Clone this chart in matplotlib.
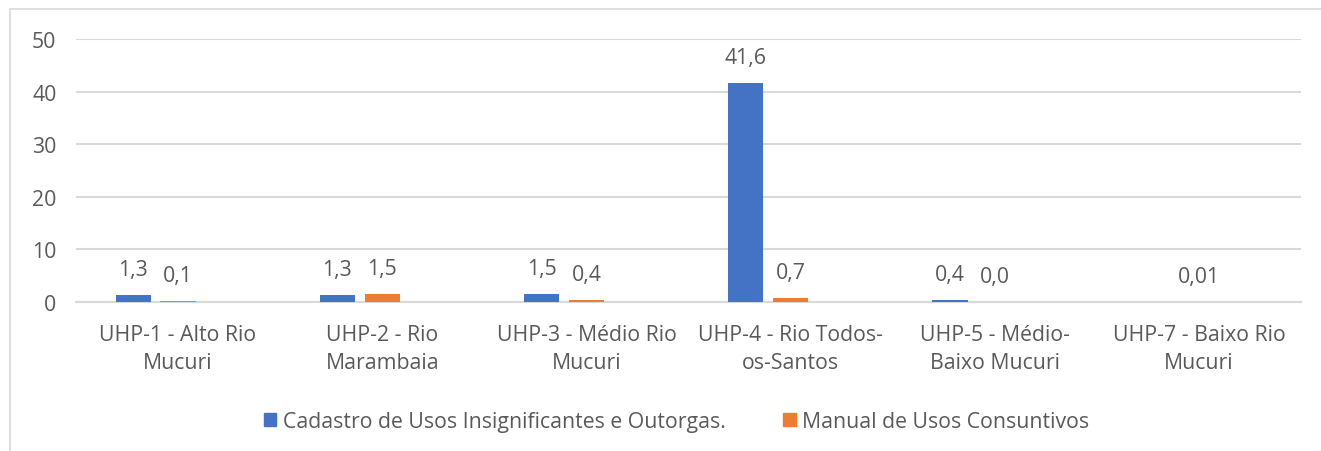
import numpy as np
import matplotlib
matplotlib.use('Agg')
import matplotlib.pyplot as plt
from matplotlib.patches import Rectangle

# Categories and the two series
categories = [
    'UHP-1 - Alto Rio\nMucuri',
    'UHP-2 - Rio\nMarambaia',
    'UHP-3 - Médio Rio\nMucuri',
    'UHP-4 - Rio Todos-\nos-Santos',
    'UHP-5 - Médio-\nBaixo Mucuri',
    'UHP-7 - Baixo Rio\nMucuri',
]
cadastro = [1.3, 1.3, 1.5, 41.6, 0.4, np.nan]
manual = [0.1, 1.5, 0.4, 0.7, 0.0, 0.01]
series_names = ['Cadastro de Usos Insignificantes e Outorgas.', 'Manual de Usos Consuntivos']
yticks = [0, 10, 20, 30, 40, 50]

BLUE = '#4472C4'
ORANGE = '#ED7D31'
TEXT = '#595959'
GRID = '#D9D9D9'
FS = 15.3

plt.rcParams['font.family'] = ['Open Sans', 'DejaVu Sans']


def fmt(v):
    # one decimal unless the value needs more
    if round(v, 1) == v:
        s = f'{v:.1f}'
    else:
        s = f'{v:.2f}'
    return s.replace('.', ',')


fig = plt.figure(figsize=(13.21, 4.52), dpi=100)
ax = fig.add_axes([0.0575, 0.3296, 0.9275, 0.582])

x = np.arange(len(categories))
width = 0.172
step = 0.22

for vals, off, color in [(cadastro, -step, BLUE), (manual, 0.0, ORANGE)]:
    vals = np.array(vals, dtype=float)
    ok = ~np.isnan(vals)
    ax.bar(x[ok] + off, vals[ok], width=width, color=color, zorder=3)
    for xi, v in zip(x[ok] + off, vals[ok]):
        ax.annotate(fmt(v), (xi, v), xytext=(0, 18.5), textcoords='offset points',
                    ha='center', va='center', fontsize=FS, color=TEXT)

ax.set_xlim(-0.5, len(categories) - 0.5)
ax.set_ylim(0, 50)
ax.set_yticks(yticks)
ax.set_xticks(x)
ax.set_xticklabels(categories, fontsize=FS, color=TEXT, linespacing=1.45)
ax.tick_params(axis='y', length=0, pad=14, labelsize=FS, labelcolor=TEXT)
ax.tick_params(axis='x', length=0, pad=16)
ax.grid(axis='y', color=GRID, linewidth=1.5, zorder=0)
for s in ['top', 'right', 'left']:
    ax.spines[s].set_visible(False)
ax.spines['bottom'].set_color(GRID)
ax.spines['bottom'].set_linewidth(1.5)

handles = [Rectangle((0, 0), 1, 1, color=BLUE), Rectangle((0, 0), 1, 1, color=ORANGE)]
fig.legend(handles, series_names, loc='center', bbox_to_anchor=(0.512, 0.065),
           ncol=2, frameon=False, fontsize=FS, labelcolor=TEXT,
           handlelength=0.6, handleheight=0.6, handletextpad=0.3, columnspacing=2.7)

# light frame around the chart area
fig.patches.append(Rectangle((10 / 1321, -0.1), 1.2, 0.1 + 1 - 10 / 452,
                             transform=fig.transFigure, fill=False,
                             edgecolor='#D9D9D9', linewidth=1.2))

fig.savefig('out.png', dpi=100, facecolor='white')
